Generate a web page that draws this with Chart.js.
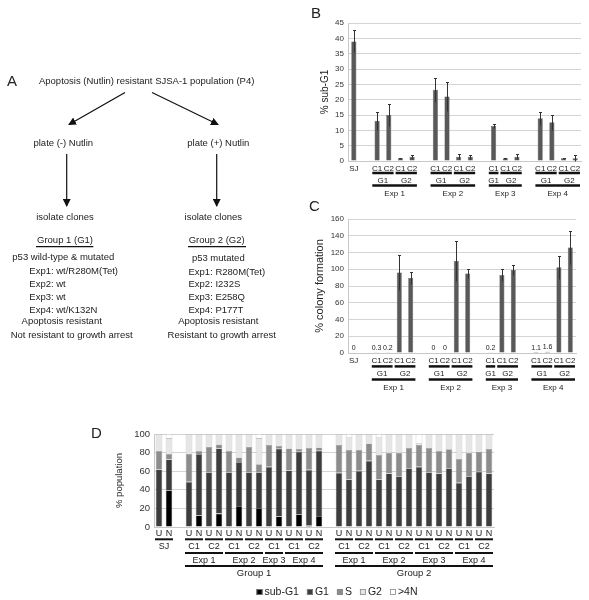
<!DOCTYPE html>
<html>
<head>
<meta charset="utf-8">
<script src="https://cdn.jsdelivr.net/npm/chart.js@4.4.1/dist/chart.umd.min.js"></script>
<style>
  body { margin: 0; background: #fff; }
  canvas { position: absolute; }
  svg text { font-family: "Liberation Sans", Arial, sans-serif; font-size: 9.5px; fill: #222; dominant-baseline: central; }
</style>
</head>
<body>
<canvas id="chartB" width="289" height="200" style="left:300px;top:0px"></canvas>
<canvas id="chartC" width="289" height="200" style="left:300px;top:200px"></canvas>
<canvas id="chartD" width="509" height="210" style="left:80px;top:390px"></canvas>

<!-- panel A: flow diagram, and the panel letters -->
<svg width="589" height="600" style="position:absolute;left:0;top:0;pointer-events:none">
  <defs>
    <marker id="ah" markerWidth="8" markerHeight="8" refX="7" refY="4" orient="auto" markerUnits="userSpaceOnUse">
      <path d="M0,0 L8,4 L0,8 z" fill="#111"/>
    </marker>
  </defs>
  <g stroke="#111" stroke-width="1.2" fill="none">
    <line x1="125" y1="92.5" x2="69" y2="124.5" marker-end="url(#ah)"/>
    <line x1="152" y1="92.5" x2="218" y2="124.5" marker-end="url(#ah)"/>
    <line x1="66.7" y1="154" x2="66.7" y2="206" marker-end="url(#ah)"/>
    <line x1="216.7" y1="154" x2="216.7" y2="206" marker-end="url(#ah)"/>
    <line x1="36" y1="246.7" x2="93.3" y2="246.7"/>
    <line x1="188" y1="246.7" x2="246" y2="246.7"/>
  </g>
  <g text-anchor="middle">
    <text x="146.7" y="80.7">Apoptosis (Nutlin) resistant SJSA-1 population (P4)</text>
    <text x="63.3" y="142.7">plate (-) Nutlin</text>
    <text x="218.3" y="142.7">plate (+) Nutlin</text>
    <text x="65" y="216.7">isolate clones</text>
    <text x="213.3" y="216.7">isolate clones</text>
    <text x="65" y="239.3">Group 1 (G1)</text>
    <text x="216.7" y="239.3">Group 2 (G2)</text>
    <text x="63.3" y="256.7">p53 wild-type &amp; mutated</text>
    <text x="61.7" y="320.7">Apoptosis resistant</text>
    <text x="71.7" y="334">Not resistant to growth arrest</text>
    <text x="218.3" y="257.7">p53 mutated</text>
    <text x="218.3" y="320.7">Apoptosis resistant</text>
    <text x="221.7" y="334">Resistant to growth arrest</text>
  </g>
  <g text-anchor="start">
    <text x="29.3" y="270.7">Exp1: wt/R280M(Tet)</text>
    <text x="29.3" y="283.3">Exp2: wt</text>
    <text x="29.3" y="296.7">Exp3: wt</text>
    <text x="29.3" y="309.3">Exp4: wt/K132N</text>
    <text x="188.5" y="271">Exp1: R280M(Tet)</text>
    <text x="188.5" y="283.3">Exp2: I232S</text>
    <text x="188.5" y="296.7">Exp3: E258Q</text>
    <text x="188.5" y="309.3">Exp4: P177T</text>
    <text x="7" y="80" style="font-size:15px">A</text>
    <text x="311" y="12" style="font-size:15px">B</text>
    <text x="309" y="205" style="font-size:15px">C</text>
    <text x="91" y="432" style="font-size:15px">D</text>
  </g>
</svg>

<script>
// ---- panel B / C categories (one slot per clone, blanks are gaps)
const cloneLabels = ['SJ', '', 'C1', 'C2', 'C1', 'C2', '', 'C1', 'C2', 'C1', 'C2', '', 'C1', 'C1', 'C2', '', 'C1', 'C2', 'C1', 'C2'];

// panel B: % sub-G1
const subG1Mean = [39, null, 13.1, 15, 0.9, 1.4, null, 23.2, 21, 1.4, 1.4, null, 11.4, 0.9, 1.4, null, 13.9, 12.6, 0.9, 0.9];
const subG1Err  = [3.6, null, 3, 3.5, 0.2, 0.7, null, 3.8, 4.8, 0.8, 0.7, null, 0.6, 0.2, 0.8, null, 2, 2.4, 0.2, 1.2];

// panel C: % colony formation
const colonyMean = [0, null, 0.3, 0.2, 96, 89.5, null, 0, 0, 110, 95, null, 0.2, 93, 99, null, 1.1, 1.6, 102.5, 126];
const colonyErr  = [0, null, 0, 0, 21, 6.7, null, 0, 0, 23.5, 5.2, null, 0, 7, 5.6, null, 0, 0, 13.8, 19.4];
const colonyText = ['0', null, '0.3', '0.2', null, null, null, '0', '0', null, null, null, '0.2', null, null, null, '1.1', '1.6', null, null];

// panel D: cell cycle distribution, U = untreated, N = Nutlin
const cycleLabels = ['U', 'N', '',
  'U', 'N', 'U', 'N', 'U', 'N', 'U', 'N', 'U', 'N', 'U', 'N', 'U', 'N', '',
  'U', 'N', 'U', 'N', 'U', 'N', 'U', 'N', 'U', 'N', 'U', 'N', 'U', 'N', 'U', 'N'];
const subG1Pct = [0.5, 39.6, null, 1, 12.6, 0.5, 14.4, 0.5, 22.7, 0.5, 20.5, 0.5, 11.5, 0.5, 13.7, 2, 11.9, null,
  0.5, 0.5, 0.5, 0.5, 0.5, 0.5, 0.5, 0.5, 0.5, 0.5, 0.5, 1, 0.5, 0.5, 0.5, 0.5];
const g1Pct = [61.4, 33.1, null, 47.6, 65.8, 58.5, 70.1, 58.5, 47.1, 58.5, 38.5, 64.2, 72.7, 60.3, 67.2, 59.5, 70.1, null,
  57.8, 50.6, 59.9, 70.7, 50.6, 57.1, 54.2, 62.8, 64.2, 58.5, 57.1, 62.3, 47, 54.2, 58.9, 57.1];
const sPct = [19.8, 5.7, null, 29.8, 3.3, 27.3, 4.3, 22.7, 5, 27.3, 8.6, 23.4, 2.8, 23.7, 2.9, 23.4, 3.6, null,
  29.8, 31.6, 22.3, 18.7, 26.2, 22.3, 25.2, 21.6, 23.4, 25.9, 24.1, 20.2, 25.5, 25.2, 21.5, 26.2];
const g2Pct = [18.3, 17, null, 21.6, 18.3, 13.7, 11.2, 18.3, 25.2, 13.7, 27.7, 11.9, 13, 15.5, 16.2, 15.1, 14.4, null,
  11.9, 14.4, 17.3, 10.1, 19.8, 20.1, 20.1, 15.1, 2, 15.1, 18.3, 16.5, 27, 20.1, 19.1, 16.2];
const over4NPct = [0, 4.6, null, 0, 0, 0, 0, 0, 0, 0, 4.7, 0, 0, 0, 0, 0, 0, null,
  0, 2.9, 0, 0, 2.9, 0, 0, 0, 9.9, 0, 0, 0, 0, 0, 0, 0];

// grouping bars under the x axis: [first slot, last slot, text]
const bcGroupRow = [[2, 3, 'G1'], [4, 5, 'G2'], [7, 8, 'G1'], [9, 10, 'G2'], [12, 12, 'G1'], [13, 14, 'G2'], [16, 17, 'G1'], [18, 19, 'G2']];
const bcExpRow = [[2, 5, 'Exp 1'], [7, 10, 'Exp 2'], [12, 14, 'Exp 3'], [16, 19, 'Exp 4']];
const dCloneRow = [[0, 1, 'SJ'], [3, 4, 'C1'], [5, 6, 'C2'], [7, 8, 'C1'], [9, 10, 'C2'], [11, 12, 'C1'], [13, 14, 'C1'], [15, 16, 'C2'],
  [18, 19, 'C1'], [20, 21, 'C2'], [22, 23, 'C1'], [24, 25, 'C2'], [26, 27, 'C1'], [28, 29, 'C2'], [30, 31, 'C1'], [32, 33, 'C2']];
const dExpRow = [[3, 6, 'Exp 1'], [7, 10, 'Exp 2'], [11, 12, 'Exp 3'], [13, 16, 'Exp 4'],
  [18, 21, 'Exp 1'], [22, 25, 'Exp 2'], [26, 29, 'Exp 3'], [30, 33, 'Exp 4']];
const dGroupRow = [[3, 16, 'Group 1'], [18, 33, 'Group 2']];

const FONT = '"Liberation Sans", Arial, sans-serif';
const TXT = '#222';
const GRID = '#d4d4d4';

// black bars and group names under the category axis
const groupRows = {
  id: 'groupRows',
  afterDraw(chart, args, opts) {
    const {ctx, chartArea} = chart;
    const x = chart.scales.x;
    const half = (x.getPixelForValue(1) - x.getPixelForValue(0)) / 2;
    ctx.save();
    ctx.fillStyle = TXT;
    ctx.strokeStyle = '#111';
    ctx.textAlign = 'center';
    ctx.textBaseline = 'middle';
    opts.rows.forEach((row) => {
      ctx.font = row.size + 'px ' + FONT;
      row.items.forEach((it) => {
        const x0 = x.getPixelForValue(it[0]) - half + 1;
        const x1 = x.getPixelForValue(it[1]) + half - 1;
        ctx.lineWidth = opts.lineWidth;
        ctx.beginPath();
        ctx.moveTo(x0, chartArea.bottom + row.line);
        ctx.lineTo(x1, chartArea.bottom + row.line);
        ctx.stroke();
        ctx.fillText(it[2], (x0 + x1) / 2, chartArea.bottom + row.text);
      });
    });
    ctx.restore();
  }
};

// error bars from dataset.errors
const errorBars = {
  id: 'errorBars',
  afterDatasetsDraw(chart) {
    const {ctx} = chart;
    const y = chart.scales.y;
    ctx.save();
    ctx.strokeStyle = '#333';
    ctx.lineWidth = 1;
    chart.data.datasets.forEach((ds, di) => {
      if (!ds.errors) return;
      chart.getDatasetMeta(di).data.forEach((bar, i) => {
        const v = ds.data[i], e = ds.errors[i];
        if (v == null || !e) return;
        const top = Math.round(y.getPixelForValue(v + e)) + 0.5;
        const bot = Math.round(y.getPixelForValue(Math.max(v - e, 0))) + 0.5;
        const bx = Math.round(bar.x) + 0.5;
        ctx.beginPath();
        ctx.moveTo(bx, top); ctx.lineTo(bx, bot);
        ctx.moveTo(bx - 1.5, top); ctx.lineTo(bx + 1.5, top);
        ctx.stroke();
      });
    });
    ctx.restore();
  }
};

// small number labels for the near-zero bars in C
const valueText = {
  id: 'valueText',
  afterDatasetsDraw(chart) {
    const {ctx} = chart;
    const y = chart.scales.y;
    ctx.save();
    ctx.fillStyle = TXT;
    ctx.font = '7px ' + FONT;
    ctx.textAlign = 'center';
    ctx.textBaseline = 'bottom';
    chart.data.datasets.forEach((ds, di) => {
      if (!ds.texts) return;
      chart.getDatasetMeta(di).data.forEach((bar, i) => {
        if (ds.texts[i] == null) return;
        ctx.fillText(ds.texts[i], bar.x, y.getPixelForValue(ds.data[i]) - 1);
      });
    });
    ctx.restore();
  }
};

// legend row for D
const boxLegend = {
  id: 'boxLegend',
  afterDraw(chart, args, opts) {
    const {ctx, chartArea} = chart;
    ctx.save();
    ctx.font = '10.5px ' + FONT;
    ctx.textBaseline = 'middle';
    const box = 6, gap = 2, sep = 8;
    const items = chart.data.datasets.map((ds) => ({ds, w: box + gap + ctx.measureText(ds.label).width}));
    const total = items.reduce((a, it) => a + it.w, 0) + sep * (items.length - 1);
    let x = opts.center - total / 2;
    const y = chartArea.bottom + opts.offset;
    items.forEach((it) => {
      ctx.fillStyle = it.ds.backgroundColor;
      ctx.fillRect(x, y - box / 2, box, box);
      ctx.strokeStyle = '#888';
      ctx.lineWidth = 0.8;
      ctx.strokeRect(x + 0.4, y - box / 2 + 0.4, box - 0.8, box - 0.8);
      ctx.fillStyle = TXT;
      ctx.fillText(it.ds.label, x + box + gap, y);
      x += it.w + sep;
    });
    ctx.restore();
  }
};

function yScale(max, step, width, tickSize, title, titleSize, titlePad) {
  return {
    min: 0, max: max,
    afterFit: (s) => { s.width = width; },
    ticks: { stepSize: step, autoSkip: false, color: '#333', font: { family: FONT, size: tickSize }, padding: 4 },
    grid: { color: GRID, drawTicks: false },
    border: { display: true, color: '#c8c8c8' },
    title: { display: true, text: title, color: TXT, font: { family: FONT, size: titleSize }, padding: { top: titlePad, bottom: 0 } }
  };
}

function xScale(height, tickSize, pad) {
  return {
    afterFit: (s) => { s.height = height; },
    grid: { display: false, drawTicks: false },
    border: { display: true, color: '#c8c8c8' },
    ticks: { autoSkip: false, maxRotation: 0, color: TXT, font: { family: FONT, size: tickSize }, padding: pad }
  };
}

function barPanel(id, values, errors, texts, yMax, yStep, yTitle, titleSize, titlePad, pad, rowsCfg, xHeight) {
  const ds = { data: values.slice(), errors: errors, backgroundColor: '#595959', borderColor: '#4a4a4a', borderWidth: 0.5,
    barPercentage: 0.44, categoryPercentage: 1 };
  if (texts) ds.texts = texts;
  return new Chart(document.getElementById(id), {
    type: 'bar',
    data: { labels: cloneLabels.slice(), datasets: [ds] },
    options: {
      responsive: false,
      animation: false,
      layout: { padding: pad },
      plugins: {
        legend: { display: false },
        tooltip: { enabled: false },
        groupRows: { lineWidth: 2.5, rows: rowsCfg }
      },
      scales: {
        x: xScale(xHeight, 8, 3),
        y: yScale(yMax, yStep, 48, 8, yTitle, titleSize, titlePad)
      }
    },
    plugins: [errorBars, valueText, groupRows]
  });
}

barPanel('chartB', subG1Mean, subG1Err, null, 45, 5, '% sub-G1', 10, 19,
  { top: 23, right: 8, left: 0, bottom: 0 },
  [{ line: 12, text: 19.3, size: 8, items: bcGroupRow }, { line: 24.5, text: 33, size: 8, items: bcExpRow }], 39);

barPanel('chartC', colonyMean, colonyErr, colonyText, 160, 20, '% colony formation', 11, 13,
  { top: 19, right: 13, left: 0, bottom: 0 },
  [{ line: 13.4, text: 20.7, size: 8, items: bcGroupRow }, { line: 26.5, text: 34.5, size: 8, items: bcExpRow }], 47);

// panel D: stacked cell cycle bars
const stackSeries = [
  ['sub-G1', subG1Pct, '#000000'],
  ['G1', g1Pct, '#3d3d3d'],
  ['S', sPct, '#8c8c8c'],
  ['G2', g2Pct, '#e6e6e6'],
  ['>4N', over4NPct, '#ffffff']
];

new Chart(document.getElementById('chartD'), {
  type: 'bar',
  data: {
    labels: cycleLabels,
    datasets: stackSeries.map((s) => ({
      label: s[0], data: s[1], backgroundColor: s[2],
      borderColor: '#9a9a9a', borderWidth: 0.6,
      barPercentage: 0.66, categoryPercentage: 1
    }))
  },
  options: {
    responsive: false,
    animation: false,
    layout: { padding: { top: 44, right: 95, left: 0, bottom: 0 } },
    plugins: {
      legend: { display: false },
      tooltip: { enabled: false },
      groupRows: {
        lineWidth: 2,
        rows: [
          { line: 12.3, text: 19.5, size: 9, items: dCloneRow },
          { line: 26, text: 33.3, size: 9, items: dExpRow },
          { line: 39, text: 46.8, size: 9.5, items: dGroupRow }
        ]
      },
      boxLegend: { center: 257, offset: 65 }
    },
    scales: {
      x: Object.assign(xScale(73, 9, 1), { stacked: true }),
      y: Object.assign(yScale(100, 20, 74, 9.5, '% population', 9.5, 34), { stacked: true })
    }
  },
  plugins: [groupRows, boxLegend]
});
</script>
</body>
</html>
